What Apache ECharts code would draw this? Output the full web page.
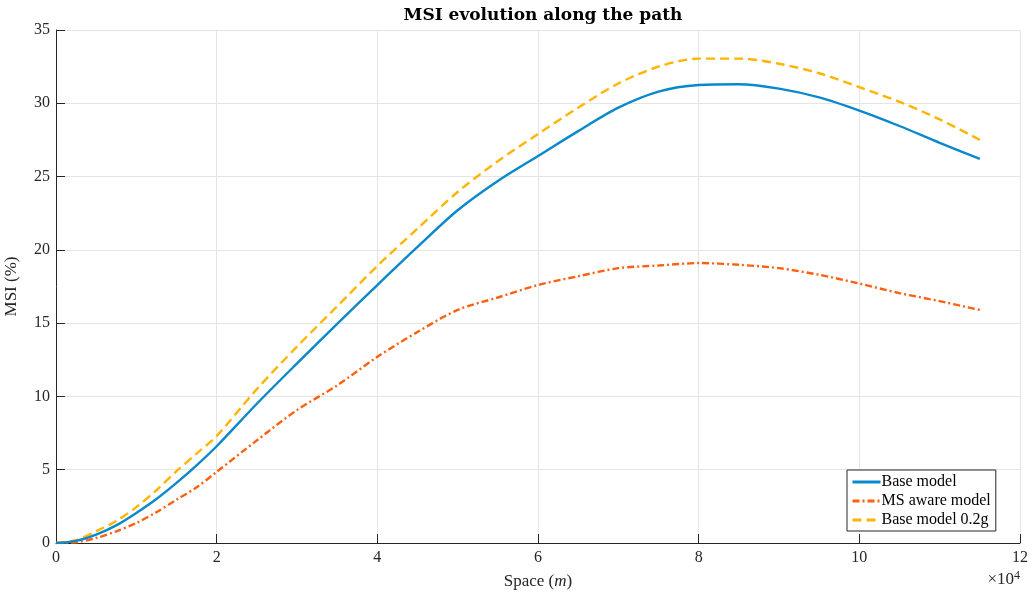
<!DOCTYPE html>
<html>
<head>
<meta charset="utf-8">
<script src="https://cdn.jsdelivr.net/npm/echarts@6/dist/echarts.min.js"></script>
<style>html,body{margin:0;padding:0;background:#fff}#c{width:1034px;height:596px}</style>
</head>
<body>
<div id="c"></div>
<script>
// x positions (m)
const xs = [0,2500,5000,7500,10000,12500,15000,17500,20000,25000,30000,35000,40000,45000,50000,55000,60000,65000,70000,75000,80000,85000,90000,95000,100000,105000,110000,115000];
const baseModel = [0,0.15,0.57,1.2,2.05,3.0,4.1,5.3,6.6,9.5,12.25,14.95,17.6,20.2,22.7,24.7,26.4,28.1,29.7,30.8,31.25,31.3,31.0,30.4,29.5,28.45,27.3,26.2];
const msAware = [0,0.05,0.34,0.8,1.36,2.1,2.95,3.8,4.85,7.0,9.07,10.75,12.7,14.4,15.9,16.75,17.6,18.2,18.75,18.93,19.1,18.98,18.75,18.3,17.7,17.05,16.5,15.9];
const base02g = [0,0.2,0.8,1.5,2.45,3.6,4.9,6.1,7.3,10.5,13.4,16.15,18.9,21.45,23.95,26.05,27.9,29.7,31.35,32.5,33.05,33.05,32.7,32.05,31.1,30.1,28.9,27.5];
const seriesNames = ['Base model','MS aware model','Base model 0.2g'];
const xTicks = [0,2,4,6,8,10,12];

const F = 'Liberation Serif, DejaVu Serif, serif';
const pair = a => xs.map((x,i)=>[x,a[i]]);
const chart = echarts.init(document.getElementById('c'));
chart.setOption({
  backgroundColor:'#fff',
  animation:false,
  title:{text:'MSI evolution along the path',left:538,textAlign:'center',top:2,
    textStyle:{fontFamily:'DejaVu Serif',fontWeight:'bold',fontSize:17,color:'#000'}},
  grid:{left:56,right:14,top:30,bottom:53,containLabel:false,outerBoundsMode:'none'},
  legend:{orient:'vertical',left:847,top:470,itemWidth:28,itemHeight:10,itemGap:3,
    padding:[4,5,3,4],borderColor:'#262626',borderWidth:1,backgroundColor:'#fff',
    itemStyle:{opacity:0},lineStyle:{width:3},
    textStyle:{fontFamily:F,fontSize:16,color:'#000',padding:[0,0,0,-4]},
    data:seriesNames},
  xAxis:{type:'value',min:0,max:120000,interval:20000,
    name:'{a|Space (}{i|m}{a|)}',nameLocation:'middle',nameGap:30,
    nameTextStyle:{rich:{a:{fontFamily:F,fontSize:17,color:'#262626'},i:{fontFamily:F,fontStyle:'italic',fontSize:17,color:'#262626'}}},
    axisLine:{lineStyle:{color:'#262626',width:1}},
    axisTick:{inside:true,length:9,lineStyle:{color:'#262626'}},
    axisLabel:{fontFamily:F,fontSize:16,color:'#262626',margin:7,
      formatter:v=>{const t=v/10000;return xTicks.includes(t)?String(t):'';}},
    splitLine:{show:true,lineStyle:{color:'#e5e5e5',width:1}}},
  yAxis:{type:'value',min:0,max:35,interval:5,
    name:'MSI (%)',nameLocation:'middle',nameGap:36,
    nameTextStyle:{fontFamily:F,fontSize:17,color:'#262626'},
    axisLine:{show:true,lineStyle:{color:'#262626',width:1}},
    axisTick:{show:true,inside:true,length:9,lineStyle:{color:'#262626'}},
    axisLabel:{fontFamily:F,fontSize:16,color:'#262626',margin:6},
    splitLine:{show:true,lineStyle:{color:'#e5e5e5',width:1}}},
  graphic:[{type:'text',right:14,top:570,
    style:{text:'{a|×10}{s|4}',rich:{a:{fontFamily:F,fontSize:17,fill:'#262626'},s:{fontFamily:F,fontSize:12,fill:'#262626',verticalAlign:'top',padding:[0,0,8,0]}}}}],
  series:[
    {name:seriesNames[0],type:'line',data:pair(baseModel),showSymbol:false,symbol:'none',smooth:0.3,
      lineStyle:{color:'#0a88cc',width:2.4},itemStyle:{color:'#0a88cc'},z:3},
    {name:seriesNames[1],type:'line',data:pair(msAware),showSymbol:false,symbol:'none',smooth:0.3,
      lineStyle:{color:'#ff6010',width:2.4,type:[7,3,2,3]},itemStyle:{color:'#ff6010'},z:2},
    {name:seriesNames[2],type:'line',data:pair(base02g),showSymbol:false,symbol:'none',smooth:0.3,
      lineStyle:{color:'#ffb400',width:2.4,type:[9,5]},itemStyle:{color:'#ffb400'},z:1}
  ]
});
</script>
</body>
</html>
